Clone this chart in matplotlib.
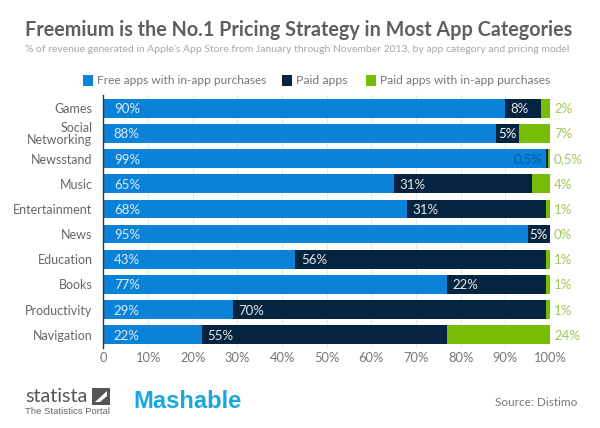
import matplotlib
matplotlib.use('Agg')
import matplotlib.pyplot as plt
from matplotlib.patches import Rectangle, Polygon

categories = ['Games', 'Social\nNetworking', 'Newsstand', 'Music', 'Entertainment',
              'News', 'Education', 'Books', 'Productivity', 'Navigation']
free_iap = [90, 88, 99, 65, 68, 95, 43, 77, 29, 22]
paid = [8, 5, 0.5, 31, 31, 5, 56, 22, 70, 55]
paid_iap = [2, 7, 0.5, 4, 1, 0, 1, 1, 1, 24]
series_names = ['Free apps with in-app purchases', 'Paid apps', 'Paid apps with in-app purchases']
ticks = [0, 10, 20, 30, 40, 50, 60, 70, 80, 90, 100]
tick_labels = ['0', '10%', '20%', '30%', '40%', '50%', '60%', '70%', '80%', '90%', '100%']

BLUE = '#0a82d8'
NAVY = '#04243f'
GREEN = '#76bd06'
GREY = '#666666'
W, H = 600, 428

plt.rcParams['font.family'] = ['Lato', 'DejaVu Sans']


def fmt(v):
    return str(v).replace('.', ',') + '%' if v != int(v) else '%d%%' % v


def fit_width(txt, target):
    # scale the font so the text is as wide as in the original
    r = fig.canvas.get_renderer()
    txt.set_fontsize(txt.get_fontsize() * target / txt.get_window_extent(r).width)


fig = plt.figure(figsize=(6, 4.28), dpi=100)
ax = fig.add_axes([103.5 / W, 1 - 348 / H, (550 - 103.5) / W, (348 - 95) / H])

ypos = range(len(categories))
left2 = [a + b for a, b in zip(free_iap, paid)]
ax.barh(ypos, free_iap, height=0.74, color=BLUE, zorder=2)
ax.barh(ypos, paid, left=free_iap, height=0.74, color=NAVY, zorder=2)
ax.barh(ypos, paid_iap, left=left2, height=0.74, color=GREEN, zorder=2)

for i in ypos:
    ax.text(2.3, i, fmt(free_iap[i]), color='#dcecfa', fontsize=9.5, va='center_baseline', zorder=3)
    if paid[i] < 1:
        ax.text(free_iap[i] - 0.6, i, fmt(paid[i]), color='#0a5fa8', fontsize=9.5,
                va='center_baseline', ha='right', zorder=3)
    elif paid[i] < 6:
        ax.text(free_iap[i] + paid[i] / 2, i, fmt(paid[i]), color='white', fontsize=9.5,
                va='center_baseline', ha='center', zorder=3)
    else:
        ax.text(free_iap[i] + 1.2, i, fmt(paid[i]), color='#e8e8e8', fontsize=9.5,
                va='center_baseline', zorder=3)
    ax.text(100.9, i, fmt(paid_iap[i]), color='#9cc85a', fontsize=9.5, va='center_baseline',
            clip_on=False, zorder=3)

ax.set_xlim(0, 100)
ax.set_ylim(len(categories) - 0.47, -0.53)
ax.set_yticks(list(ypos))
ax.set_yticklabels(categories, fontsize=9, color=GREY, linespacing=0.95)
ax.set_xticks(ticks)
ax.set_xticklabels(tick_labels, fontsize=9.3, color='#777777')
ax.tick_params(axis='x', length=0, pad=3)
ax.tick_params(axis='y', length=0, pad=8)
ax.grid(axis='x', color='#e4e4e4', linewidth=0.6, zorder=0)
for name in ['top', 'right', 'bottom']:
    ax.spines[name].set_visible(False)
ax.spines['left'].set_color('#333333')
ax.spines['left'].set_linewidth(1)
ax.spines['left'].set_zorder(4)

# title block
title = fig.text(25 / W, 1 - 30 / H, 'Freemium is the No.1 Pricing Strategy in Most App Categories',
                 fontsize=16, fontweight='bold', color='#5f5f5f', va='center')
fit_width(title, 547)
sub = fig.text(25 / W, 1 - 50 / H,
               "% of revenue generated in Apple's App Store from January through November 2013, by app category and pricing model",
               fontsize=9, color='#a8a8a8', va='center')
fit_width(sub, 549)

# legend, placed by hand like the original
for x, name, col, wd in zip([83, 282, 366], series_names, [BLUE, NAVY, GREEN], [170, 52, 171]):
    fig.patches.append(Rectangle((x / W, 1 - 85.5 / H), 10 / W, 11 / H, transform=fig.transFigure,
                                 facecolor=col, edgecolor='none'))
    t = fig.text((x + 14) / W, 1 - 80 / H, name, fontsize=10.5, color='#777777', va='center')
    fit_width(t, wd)

# footer
t = fig.text(25 / W, 1 - 397 / H, 'statista', fontsize=19, color='#555555', va='center')
fit_width(t, 63)
fig.patches.append(Rectangle((92 / W, 1 - 405 / H), 18 / W, 17 / H, transform=fig.transFigure,
                             facecolor='#555555', edgecolor='none'))
fig.patches.append(Polygon([(95 / W, 1 - 402 / H), (107 / W, 1 - 391 / H), (107 / W, 1 - 396 / H),
                            (100 / W, 1 - 402 / H)], closed=True, transform=fig.transFigure,
                           facecolor='white', edgecolor='none'))
t = fig.text(25 / W, 1 - 411 / H, 'The Statistics Portal', fontsize=8, color='#666666', va='center',
             family=['Liberation Sans', 'DejaVu Sans'])
fit_width(t, 85)
t = fig.text(133 / W, 1 - 401 / H, 'Mashable', fontsize=19, fontweight='bold', color='#1aa7e0',
             va='center', family=['Liberation Sans', 'DejaVu Sans'])
fit_width(t, 108)
t = fig.text(495 / W, 1 - 403 / H, 'Source: Distimo', fontsize=10.5, color='#777777', va='center')
fit_width(t, 83)

fig.savefig('out.png', dpi=100)
